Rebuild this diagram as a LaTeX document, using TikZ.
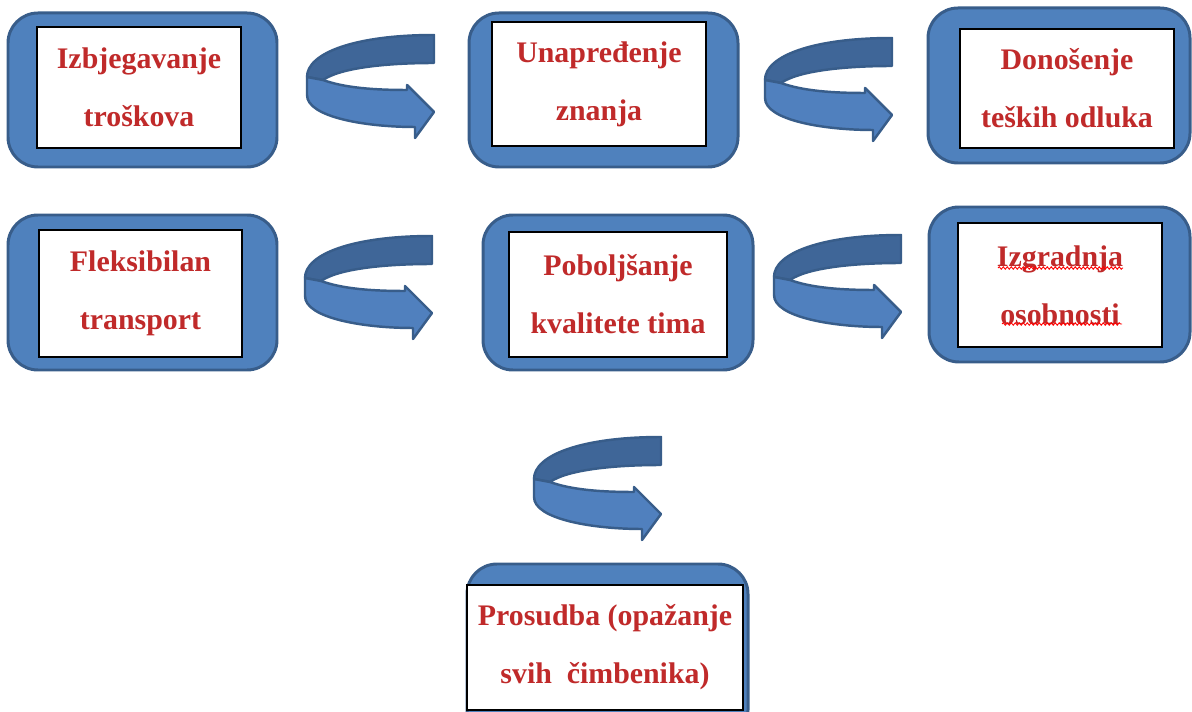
\documentclass[tikz,border=0pt]{standalone}
\usepackage{fontspec}
\setmainfont{Liberation Serif}
\usetikzlibrary{decorations.pathmorphing}

\definecolor{boxblue}{RGB}{79,129,189}
\definecolor{boxline}{RGB}{56,93,138}
\definecolor{bandback}{RGB}{63,102,152}
\definecolor{bandfront}{RGB}{80,128,190}
\definecolor{textred}{RGB}{192,42,42}

\tikzset{
    outerbox/.style={draw=boxline,line width=1.7pt,fill=boxblue,rounded corners=0.6cm},
    inbox/.style 2 args={draw=black,line width=1.3pt,fill=white,inner sep=0pt,
        minimum width=#1*0.02cm,minimum height=#2*0.02cm,
        align=center,text=textred,font=\fontsize{17}{33}\selectfont\bfseries},
    band/.style={draw=boxline,line width=1.4pt,line join=round},
    uturn/.pic={
        \draw[band,fill=bandback] (129,0) -- (129,28) .. controls (80,28) and (35,33) .. (18,45)
            -- (2,42) .. controls (2,18) and (50,0) .. (129,0) -- cycle;
        \draw[band,fill=bandfront] (2,42) -- (18,45) .. controls (40,53) and (70,55) .. (102,55)
            -- (102,50) -- (129,77) -- (110,103) -- (110,92) .. controls (60,92) and (2,82) .. (2,60) -- cycle;
    },
    squiggle/.style={draw=red,line width=0.5pt,decorate,decoration={snake,segment length=0.08cm,amplitude=0.025cm}}
}

\begin{document}
\begin{tikzpicture}[x=0.02cm,y=-0.02cm]
                                    \useasboundingbox (0,0) rectangle (1192,712);
                                    \clip (0,0) rectangle (1192,712);
% frames
                                    \draw[outerbox] (8,13) rectangle (277,167);
                                    \draw[outerbox] (469,13) rectangle (738,167);
                                    \draw[outerbox] (928,8) rectangle (1190,163);
                                    \draw[outerbox] (8,215) rectangle (277,370);
                                    \draw[outerbox] (483,215) rectangle (753,370);
                                    \draw[outerbox] (929,207) rectangle (1190,362);
                                    \draw[outerbox] (467,564) rectangle (748,740);

% text boxes
                                    \node[inbox={204}{121}] (izbjegavanje) at (139,87.5) {Izbjegavanje\\troškova};
                                    \node[inbox={214}{124}] (unapredjenje) at (599,84) {Unapređenje\\znanja};
                                    \node[inbox={214}{119}] (donosenje) at (1067,88.5) {Donošenje\\teških odluka};
                                    \node[inbox={203}{127}] (fleksibilan) at (140.5,293.5) {Fleksibilan\\transport};
                                    \node[inbox={218}{125}] (poboljsanje) at (618,294.5) {Poboljšanje\\kvalitete tima};
                                    \node[inbox={204}{124}] (izgradnja) at (1060,285) {Izgradnja\\osobnosti};
                                    \node[inbox={276}{125}] (prosudba) at (605,647.5) {Prosudba (opažanje\\svih~~čimbenika)};

% spelling marks
                                    \draw[squiggle] (998,268) -- (1123,268);
                                    \draw[squiggle] (1002,324) -- (1122,324);

% arrows
                                    \pic at (305,35) {uturn};
                                    \pic at (763,38) {uturn};
                                    \pic at (303,236) {uturn};
                                    \pic at (772,235) {uturn};
                                    \pic at (532,437) {uturn};

\end{tikzpicture}
\end{document}
